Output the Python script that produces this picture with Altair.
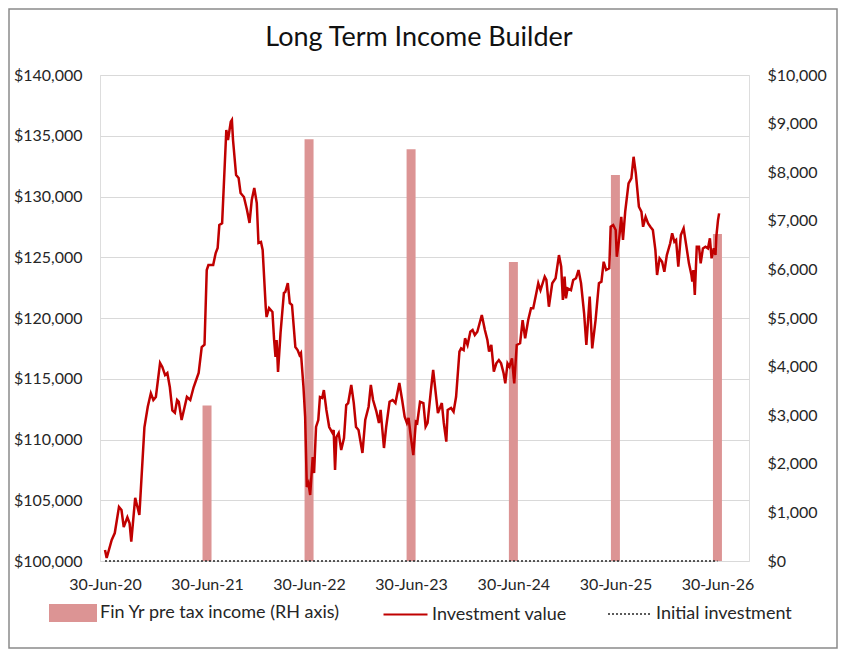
import altair as alt
import pandas as pd

# ---------------- data ----------------
START = "2020-06-30"
TITLE = "Long Term Income Builder"

income_dates = ["2021-06-30", "2022-06-30", "2023-06-30", "2024-06-30", "2025-06-30", "2026-06-30"]
income_values = [3200, 8680, 8470, 6150, 7940, 6730]

# days after 30-Jun-20 and investment value
inv_days = [0, 6, 24, 35, 50, 59, 67, 80, 88, 94, 108, 123, 141, 153, 164, 173, 182, 197, 205, 215,
            223, 232, 241, 250, 258, 264, 274, 285, 293, 305, 317, 335, 346, 356, 364, 370, 387, 396, 403, 409,
            419, 434, 440, 450, 454, 458, 469, 478, 485, 497, 508, 517, 525, 534, 543, 549, 558, 564, 575, 578,
            587, 599, 605, 610, 614, 619, 628, 640, 645, 654, 661, 669, 681, 689, 696, 701, 710, 716, 722, 728,
            734, 743, 748, 755, 763, 769, 777, 783, 792, 802, 814, 818, 823, 828, 836, 845, 855, 863, 870, 881,
            890, 898, 907, 921, 931, 943, 951, 959, 971, 980, 986, 998, 1006, 1018, 1029, 1039, 1053, 1063, 1072, 1080,
            1086, 1094, 1103, 1112, 1117, 1127, 1139, 1147, 1154, 1166, 1174, 1182, 1191, 1205, 1212, 1221, 1226, 1238, 1247, 1256,
            1268, 1274, 1283, 1288, 1297, 1307, 1315, 1323, 1332, 1348, 1359, 1368, 1374, 1382, 1391, 1400, 1409, 1417, 1426, 1432,
            1440, 1447, 1456, 1464, 1473, 1485, 1494, 1503, 1514, 1524, 1532, 1544, 1550, 1558, 1573, 1579, 1588, 1600, 1612, 1624,
            1632, 1638, 1644, 1649, 1655, 1667, 1675, 1685, 1694, 1703, 1714, 1722, 1734, 1743, 1755, 1767, 1776, 1784, 1793, 1804,
            1809, 1818, 1827, 1831, 1839, 1847, 1853, 1861, 1873, 1883, 1891, 1899, 1910, 1919, 1925, 1934, 1943, 1951, 1960, 1969,
            1975, 1984, 1993, 2001, 2010, 2022, 2029, 2037, 2043, 2051, 2060, 2070, 2080, 2089, 2098, 2101, 2105, 2110, 2117, 2125,
            2131, 2139, 2148, 2157, 2164, 2170, 2178, 2184, 2187, 2193, 2197]
inv_values = [100900, 100250, 101730, 102300, 104450, 104200, 102800, 103600, 103100, 101600, 105200, 103800, 111000, 112700, 113800, 113250, 113500, 116300, 115970, 115300,
              115470, 114300, 112400, 112200, 113250, 113100, 111600, 112700, 113500, 113250, 114300, 115470, 117600, 117800, 123950, 124360, 124360, 125350, 125760, 127650,
              127800, 135470, 134650, 136150, 136300, 134650, 131770, 131520, 130290, 129960, 128890, 127820, 129710, 130700, 129460, 126170, 126250, 125600, 120900, 120080,
              120820, 120490, 118190, 116790, 118190, 115560, 118770, 122060, 122140, 122880, 121230, 121070, 117610, 117360, 116950, 117120, 114320, 111850, 106090, 106420,
              105430, 108560, 107240, 111030, 111600, 113500, 113420, 114070, 112430, 111030, 110530, 110780, 107490, 110200, 110530, 109130, 110120, 112840, 113000, 114490,
              113000, 111030, 110780, 108890, 111600, 112700, 114490, 113250, 112290, 111360, 112430, 109300, 111050, 113110, 113250, 113000, 114650, 113250, 111880, 111360,
              111770, 110230, 108720, 111460, 111360, 113110, 113000, 111050, 111360, 114070, 115720, 114070, 112180, 113000, 111360, 109820, 112430, 112590, 112290, 113520,
              117230, 117500, 117360, 118330, 117780, 118870, 119010, 118600, 118870, 120250, 119010, 118190, 117230, 117780, 115580, 116270, 116540, 116270, 115450, 114620,
              116270, 115990, 116680, 114620, 117780, 117920, 119830, 118330, 119830, 120800, 120800, 122160, 122860, 122300, 123400, 123130, 120930, 122860, 123270, 125180,
              124220, 121480, 123400, 121620, 122440, 122300, 123130, 123270, 123950, 122860, 120390, 117780, 121760, 117500, 119830, 122860, 122990, 124630, 123950, 124090,
              127510, 127650, 127240, 125040, 126420, 128330, 126420, 128750, 131080, 131500, 133270, 131910, 129160, 128750, 127510, 128330, 127790, 127510, 127240, 125590,
              123540, 124910, 124630, 123810, 125180, 126150, 126970, 126280, 126420, 124220, 126830, 127380, 125870, 124500, 123540, 122990, 123950, 121890, 125870, 125870,
              124500, 125730, 125870, 125730, 126560, 124910, 125730, 125180, 126700, 128060, 128610]

initial_dates = ["2020-06-30", "2026-06-30"]
initial_values = [100000, 100000]

left_ticks = [100000, 105000, 110000, 115000, 120000, 125000, 130000, 135000, 140000]
right_ticks = [0, 1000, 2000, 3000, 4000, 5000, 6000, 7000, 8000, 9000, 10000]
tick_years = [2020, 2021, 2022, 2023, 2024, 2025, 2026]

BAR_LABEL = "Fin Yr pre tax income (RH axis)"
LINE_LABEL = "Investment value"
INIT_LABEL = "Initial investment"

# ---------------- tables ----------------
bars_df = pd.DataFrame({"date": pd.to_datetime(income_dates), "income": income_values, "series": BAR_LABEL})
line_df = pd.DataFrame({"date": pd.Timestamp(START) + pd.to_timedelta(inv_days, unit="D"),
                        "value": inv_values, "series": LINE_LABEL})
init_df = pd.DataFrame({"date": pd.to_datetime(initial_dates), "value": initial_values, "series": INIT_LABEL})
deco_df = pd.DataFrame({"title": [TITLE]})

FONT = "Lato"
TXT = "#262626"
LEG_FS = 18

x_enc = alt.X(
    "date:T",
    scale=alt.Scale(domain=[alt.DateTime(year=2020, month=6, date=30), alt.DateTime(year=2026, month=10, date=3)]),
    axis=alt.Axis(values=[alt.DateTime(year=y, month=6, date=30) for y in tick_years], format="%d-%b-%y",
                  title=None, grid=False, domain=False, ticks=False, labelFontSize=16, labelPadding=15,
                  labelColor=TXT, labelFont=FONT),
)

frame = alt.Chart(deco_df).mark_rect(fill="transparent", stroke="#8a8a8a", strokeWidth=1.5).encode(
    x=alt.value(-91), x2=alt.value(737), y=alt.value(-66), y2=alt.value(573)
)

title = alt.Chart(deco_df).mark_text(fontSize=27, font=FONT, color="#111111", align="center",
                                     baseline="middle").encode(
    text="title:N", x=alt.value(319), y=alt.value(-37)
)

bars = alt.Chart(bars_df).mark_bar(size=9, opacity=1).encode(
    x=x_enc,
    y=alt.Y("income:Q", scale=alt.Scale(domain=[0, 10000]),
            axis=alt.Axis(orient="right", values=right_ticks, format="$,.0f", title=None, grid=False,
                          domain=False, ticks=False, labelPadding=18, labelFontSize=16, labelColor=TXT,
                          labelFont=FONT)),
    color=alt.Color("series:N", scale=alt.Scale(domain=[BAR_LABEL], range=["#DC9494"]),
                    legend=alt.Legend(title=None, orient="none", legendX=-51, legendY=514,
                                      symbolType="M-1,-0.375H1V0.375H-1Z", symbolSize=2304,
                                      symbolStrokeWidth=0, labelFontSize=LEG_FS, labelOffset=3, labelLimit=400,
                                      labelColor=TXT, labelFont=FONT)),
)

initial = alt.Chart(init_df).mark_line(strokeDash=[2, 2], strokeWidth=1.6).encode(
    x=x_enc,
    y=alt.Y("value:Q", scale=alt.Scale(domain=[100000, 140000]), axis=None),
    color=alt.Color("series:N", scale=alt.Scale(domain=[INIT_LABEL], range=["#262626"]),
                    legend=alt.Legend(title=None, orient="none", legendX=507, legendY=517,
                                      symbolType="stroke", symbolSize=1764, symbolDash=[2, 2],
                                      symbolStrokeWidth=1.6, labelFontSize=LEG_FS, labelOffset=5, labelLimit=400,
                                      labelColor=TXT, labelFont=FONT)),
)

line = alt.Chart(line_df).mark_line(strokeWidth=2.5).encode(
    x=x_enc,
    y=alt.Y("value:Q", scale=alt.Scale(domain=[100000, 140000]),
            axis=alt.Axis(values=left_ticks, format="$,.0f", title=None, grid=True, gridColor="#d9d9d9",
                          gridWidth=1, domain=False, ticks=False, labelPadding=18, labelFontSize=16,
                          labelColor=TXT, labelFont=FONT)),
    color=alt.Color("series:N", scale=alt.Scale(domain=[LINE_LABEL], range=["#C00000"]),
                    legend=alt.Legend(title=None, orient="none", legendX=282, legendY=516,
                                      symbolType="stroke", symbolSize=1936, symbolStrokeWidth=2.2,
                                      labelFontSize=LEG_FS, labelOffset=3, labelLimit=400,
                                      labelColor=TXT, labelFont=FONT)),
)

chart = alt.layer(frame, title, bars, initial, line).resolve_scale(
    y="independent", color="independent"
).properties(
    width=649,
    height=486,
    autosize=alt.AutoSizeParams(type="none"),
    padding={"left": 92, "top": 67, "right": 91, "bottom": 91},
).configure_view(stroke=None).configure(background="white")

chart.save("out.html", embed_options={"renderer": "svg", "actions": False})
